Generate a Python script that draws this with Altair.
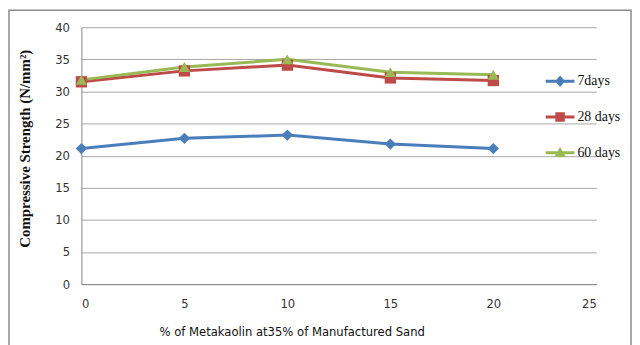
import altair as alt
import pandas as pd

# ---- data ----
metakaolin = [0, 5, 10, 15, 20]
days7 = [21.1, 22.7, 23.2, 21.8, 21.1]
days28 = [31.5, 33.2, 34.1, 32.1, 31.7]
days60 = [31.8, 33.8, 35.0, 33.0, 32.6]
series_names = ["7days", "28 days", "60 days"]
series_colors = ["#4A7EBB", "#BE4B48", "#98B954"]
x_ticks = [0, 5, 10, 15, 20, 25]
y_ticks = [0, 5, 10, 15, 20, 25, 30, 35, 40]

rows = []
for name, vals in zip(series_names, [days7, days28, days60]):
    for x, v in zip(metakaolin, vals):
        rows.append({"pct": x, "strength": v, "series": name})
df = pd.DataFrame(rows)

W, H = 519, 259
SANS = "Liberation Sans Narrow, DejaVu Sans Condensed, sans-serif"
SERIF = "Liberation Serif, Times New Roman, serif"

xenc = alt.X("pct:Q", scale=alt.Scale(domain=[0, 25], nice=False),
             axis=alt.Axis(values=x_ticks, grid=False, ticks=False, labelOverlap=False,
                           domainColor="#868686", labelFont=SANS,
                           labelFontSize=13, labelColor="#333333", labelPadding=14,
                           title="% of Metakaolin at35% of Manufactured Sand",
                           titleFont=SANS, titleFontSize=13, titleFontWeight="normal",
                           titleColor="#111111",
                           titleX=212, titleY=48, titleAnchor="middle", titleBaseline="middle"))
yenc = alt.Y("strength:Q", scale=alt.Scale(domain=[0, 40], nice=False),
             axis=alt.Axis(values=y_ticks, grid=True, gridColor="#a6a6a6", ticks=False,
                           labelOverlap=False,
                           domainColor="#868686", labelFont=SANS,
                           labelFontSize=13, labelColor="#333333", labelPadding=12,
                           title="Compressive Strength (N/mm\u00b2)",
                           titleFont=SERIF, titleFontSize=15, titleFontWeight="bold",
                           titleColor="#111111",
                           titleX=-49, titleY=122))

color_scale = alt.Scale(domain=series_names, range=series_colors)

lines = alt.Chart(df).mark_line(strokeWidth=3).encode(
    x=xenc, y=yenc,
    color=alt.Color("series:N", scale=color_scale, legend=None),
)

points = alt.Chart(df).mark_point(filled=True, opacity=1, size=130).encode(
    x=xenc, y=yenc,
    color=alt.Color("series:N", scale=color_scale, legend=None),
    shape=alt.Shape("series:N", scale=alt.Scale(domain=series_names,
                                                range=["diamond", "square", "triangle-up"]),
                    legend=None),
)

bar = "M-1,-0.1H1V0.1H-1Z "
leg_paths = [
    bar + "M0,-0.4L0.35,0L0,0.4L-0.35,0Z",
    bar + "M-0.33,-0.33H0.33V0.33H-0.33Z",
    bar + "M0,-0.4L0.4,0.3H-0.4Z",
]

leg_opts = dict(title=None, orient="none", legendX=467, legendY=39,
                symbolSize=841, rowPadding=13, labelOffset=2, padding=0,
                labelFont=SERIF, labelFontSize=14, labelColor="#111111")

legend = alt.Chart(df).transform_filter("false").mark_point(filled=True, opacity=1).encode(
    x=xenc, y=yenc,
    color=alt.Color("series:N", scale=color_scale, legend=alt.Legend(**leg_opts)),
    shape=alt.Shape("series:N", scale=alt.Scale(domain=series_names, range=leg_paths),
                    legend=alt.Legend(**leg_opts)),
)

frame = alt.Chart(pd.DataFrame({"a": [0]})).mark_rect(
    fill=None, stroke="#8c8c8c", strokeWidth=1.5
).encode(x=alt.value(-73), x2=alt.value(554), y=alt.value(-17), y2=alt.value(360))

chart = alt.layer(lines, points, legend, frame).resolve_scale(
    color="independent", shape="independent"
).properties(
    width=W, height=H,
    padding={"left": 74, "top": 18, "right": 36, "bottom": 60},
    autosize=alt.AutoSizeParams(type="none"),
).configure_view(stroke=None)

chart.save("out.html", embed_options={"renderer": "svg", "actions": False})
